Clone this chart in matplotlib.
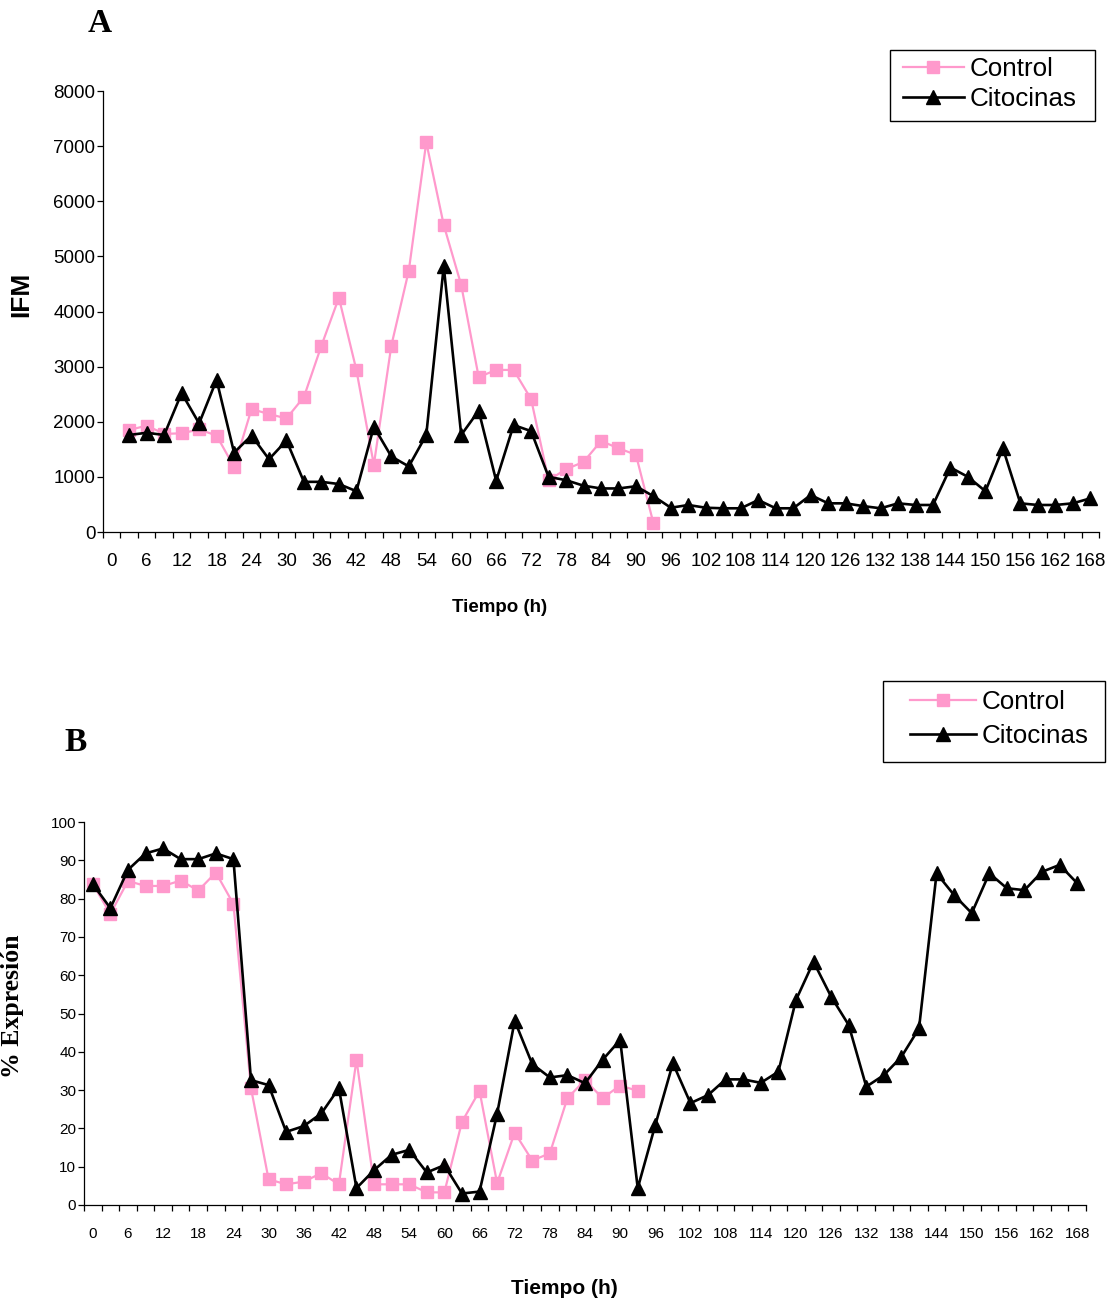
import numpy as np
import matplotlib
matplotlib.use('Agg')
import matplotlib.pyplot as plt
from matplotlib.patches import Rectangle

plt.rcParams['font.family'] = ['Liberation Sans', 'DejaVu Sans']

# time categories (h)
hours = list(range(0, 169, 3))
tick_labels = [str(h) for h in range(0, 169, 6)]

# Panel A - IFM
ifm_control_hours = list(range(3, 94, 3))
ifm_control = [1850, 1930, 1780, 1790, 1860, 1750, 1180, 2230, 2140, 2060,
               2450, 3380, 4250, 2940, 1220, 3380, 4740, 7070, 5570, 4480,
               2810, 2940, 2940, 2410, 940, 1140, 1270, 1650, 1520, 1400, 160]
ifm_cito_hours = list(range(3, 169, 3))
ifm_cito = [1760, 1800, 1760, 2520, 1970, 2760, 1440, 1750, 1320, 1660,
            910, 910, 870, 740, 1910, 1370, 1190, 1760, 4820, 1760,
            2200, 930, 1940, 1830, 1000, 940, 840, 790, 790, 830,
            650, 440, 490, 440, 430, 430, 580, 430, 430, 670,
            520, 520, 470, 430, 520, 490, 490, 1170, 1000, 740,
            1520, 520, 490, 490, 520, 610]

# Panel B - % Expresion
exp_control_hours = list(range(0, 94, 3))
exp_control = [83.8, 76.0, 84.6, 83.3, 83.3, 84.7, 82.1, 86.8, 78.6, 30.5,
               6.7, 5.4, 6.1, 8.3, 5.4, 37.9, 5.4, 5.4, 5.4, 3.3,
               3.3, 21.7, 29.8, 5.7, 18.9, 11.6, 13.5, 27.9, 32.6, 27.9,
               31.2, 29.8]
exp_cito_hours = list(range(0, 169, 3))
exp_cito = [83.8, 77.5, 87.5, 91.8, 93.1, 90.3, 90.3, 91.8, 90.3, 32.6,
            31.3, 19.1, 20.6, 23.9, 30.5, 4.4, 9.1, 13.1, 14.4, 8.5,
            10.4, 3.0, 3.5, 23.8, 48.1, 36.8, 33.3, 33.9, 31.8, 37.9,
            43.1, 4.4, 20.9, 37.0, 26.6, 28.7, 32.8, 32.8, 31.9, 34.8,
            53.5, 63.5, 54.4, 47.0, 30.9, 33.9, 38.7, 46.1, 86.6, 80.9,
            76.2, 86.6, 82.7, 82.2, 87.0, 88.8, 84.0]

PINK = '#FF99CC'
W, H = 1116, 1302

fig = plt.figure(figsize=(W / 100, H / 100), dpi=100)
axA = fig.add_axes([103/W, 1 - 532/H, 996/W, 441/H])
axB = fig.add_axes([84/W, 1 - 1205/H, 1002/W, 383/H])


def style_axis(ax, ymax, ystep, tick_fs, xpad):
    for s in ['top', 'right']:
        ax.spines[s].set_visible(False)
    for s in ['left', 'bottom']:
        ax.spines[s].set_linewidth(0.9)
    ax.set_xlim(hours[0] - 1.5, hours[-1] + 1.5)
    ax.set_ylim(0, ymax)
    ax.set_yticks(np.arange(0, ymax + 1, ystep))
    ax.tick_params(axis='y', direction='out', length=4, width=0.9,
                   labelsize=tick_fs, pad=1.5)
    # category boundary ticks
    ax.set_xticks(np.arange(hours[0] - 1.5, hours[-1] + 2, 3))
    ax.set_xticklabels([])
    ax.tick_params(axis='x', which='major', direction='out', length=4.5, width=0.9)
    # labels at category centres
    ax.set_xticks(list(range(0, 169, 6)), minor=True)
    ax.set_xticklabels(tick_labels, minor=True)
    ax.tick_params(axis='x', which='minor', length=0, labelsize=tick_fs, pad=xpad)


def draw(ax, ch, cv, th, tv):
    ax.plot(ch, cv, color=PINK, lw=1.6, marker='s', ms=9, mfc=PINK, mec=PINK,
            label='Control', clip_on=False)
    ax.plot(th, tv, color='black', lw=1.9, marker='^', ms=10.5, mfc='black',
            mec='black', label='Citocinas', clip_on=False)


def boxed_legend(ax, x0, y0, x1, y1, lx, ly, hl, ls):
    leg = ax.legend(loc='upper left', bbox_to_anchor=(lx / W, 1 - ly / H),
                    bbox_transform=fig.transFigure, fontsize=18.7, frameon=False,
                    borderaxespad=0, borderpad=0, handlelength=hl,
                    handletextpad=0.23, labelspacing=ls)
    fig.add_artist(Rectangle((x0 / W, 1 - y1 / H), (x1 - x0) / W, (y1 - y0) / H,
                             transform=fig.transFigure, fill=False,
                             edgecolor='black', lw=1.0))
    return leg


draw(axA, ifm_control_hours, ifm_control, ifm_cito_hours, ifm_cito)
style_axis(axA, 8000, 1000, 13.5, 15)
draw(axB, exp_control_hours, exp_control, exp_cito_hours, exp_cito)
style_axis(axB, 100, 10, 11, 15.5)

boxed_legend(axA, 890, 50, 1095, 121, 903, 57, 2.33, 0.25)
boxed_legend(axB, 883, 681, 1105, 762, 910, 690, 2.53, 0.37)

# panel letters and axis titles
fig.text(100/W, 1 - 24/H, 'A', family='Liberation Serif', weight='bold',
         fontsize=24, ha='center', va='center')
fig.text(76/W, 1 - 742/H, 'B', family='Liberation Serif', weight='bold',
         fontsize=24, ha='center', va='center')
fig.text(21/W, 1 - 294/H, 'IFM', weight='bold', fontsize=19,
         rotation=90, ha='center', va='center')
fig.text(500/W, 1 - 608/H, 'Tiempo (h)', weight='bold', fontsize=13.5,
         ha='center', va='center')
fig.text(13/W, 1 - 1006/H, '% Expresión', family='Liberation Serif',
         weight='bold', fontsize=18.5, rotation=90, ha='center', va='center')
fig.text(564/W, 1 - 1289/H, 'Tiempo (h)', weight='bold', fontsize=15,
         ha='center', va='center')

fig.savefig('out.png', dpi=100)
